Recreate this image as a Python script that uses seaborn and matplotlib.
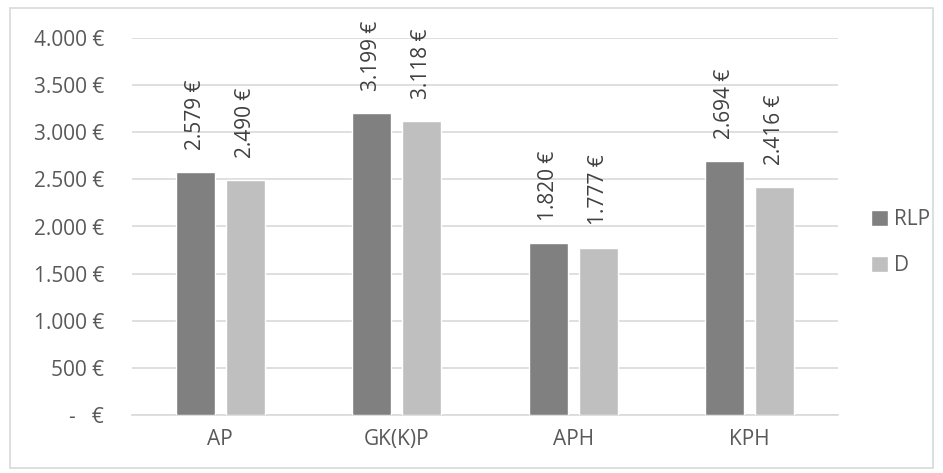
import matplotlib
matplotlib.use("Agg")
import matplotlib.pyplot as plt
import seaborn as sns
import pandas as pd
from matplotlib.patches import Rectangle

categories = ["AP", "GK(K)P", "APH", "KPH"]
rlp_values = [2579, 3199, 1820, 2694]
d_values = [2490, 3118, 1777, 2416]
series_names = ["RLP", "D"]
y_ticks = [0, 500, 1000, 1500, 2000, 2500, 3000, 3500, 4000]

df = pd.DataFrame({
    "cat": categories * 2,
    "val": rlp_values + d_values,
    "series": [series_names[0]] * 4 + [series_names[1]] * 4,
})

sns.set_theme(style="white")
plt.rcParams["font.family"] = ["Open Sans", "DejaVu Sans"]
txt = "#595959"
grid = "#d9d9d9"
fs = 15

fig = plt.figure(figsize=(9.43, 4.73), dpi=100)
ax = fig.add_axes([132/943, 1-415/473, (838-132)/943, (415-38)/473])

sns.barplot(data=df, x="cat", y="val", hue="series", order=categories,
            hue_order=series_names, palette=["#808080", "#bfbfbf"],
            width=0.567, gap=0.22, saturation=1, ax=ax, legend=True, zorder=3)

ax.set_ylim(0, 4000)
ax.set_xlim(-0.5, 3.5)
ax.set_yticks(y_ticks)

def fmt(v):
    if v == 0:
        return "-   €"
    return f"{v:,}".replace(",", ".") + " €"

ax.set_yticklabels([fmt(v) for v in y_ticks], color=txt, fontsize=fs)
ax.tick_params(axis="y", length=0, pad=20)
ax.tick_params(axis="x", length=0, pad=10, labelcolor=txt, labelsize=fs)
ax.set_xlabel("")
ax.set_ylabel("")
ax.grid(axis="y", color=grid, linewidth=1.2, zorder=0)
ax.set_axisbelow(True)
for s in ["left", "right", "top"]:
    ax.spines[s].set_visible(False)
ax.spines["bottom"].set_color(grid)
ax.spines["bottom"].set_linewidth(1.2)

for cont in ax.containers:
    labels = [fmt(int(round(b.get_height()))) for b in cont]
    ax.bar_label(cont, labels=labels, rotation=90, padding=16,
                 color="#404040", fontsize=fs)

handles, labs = ax.get_legend_handles_labels()
ax.legend(handles, labs, loc="center left", bbox_to_anchor=(1.02, 0.457),
          frameon=False, fontsize=fs, labelcolor=txt, handlelength=0.8,
          handleheight=0.8, handletextpad=0.3, labelspacing=1.2)

fig.add_artist(Rectangle((10/943, 5/473), 923/943, 460/473, transform=fig.transFigure,
                         fill=False, edgecolor=grid, linewidth=1.2))

fig.savefig("out.png", dpi=100)
